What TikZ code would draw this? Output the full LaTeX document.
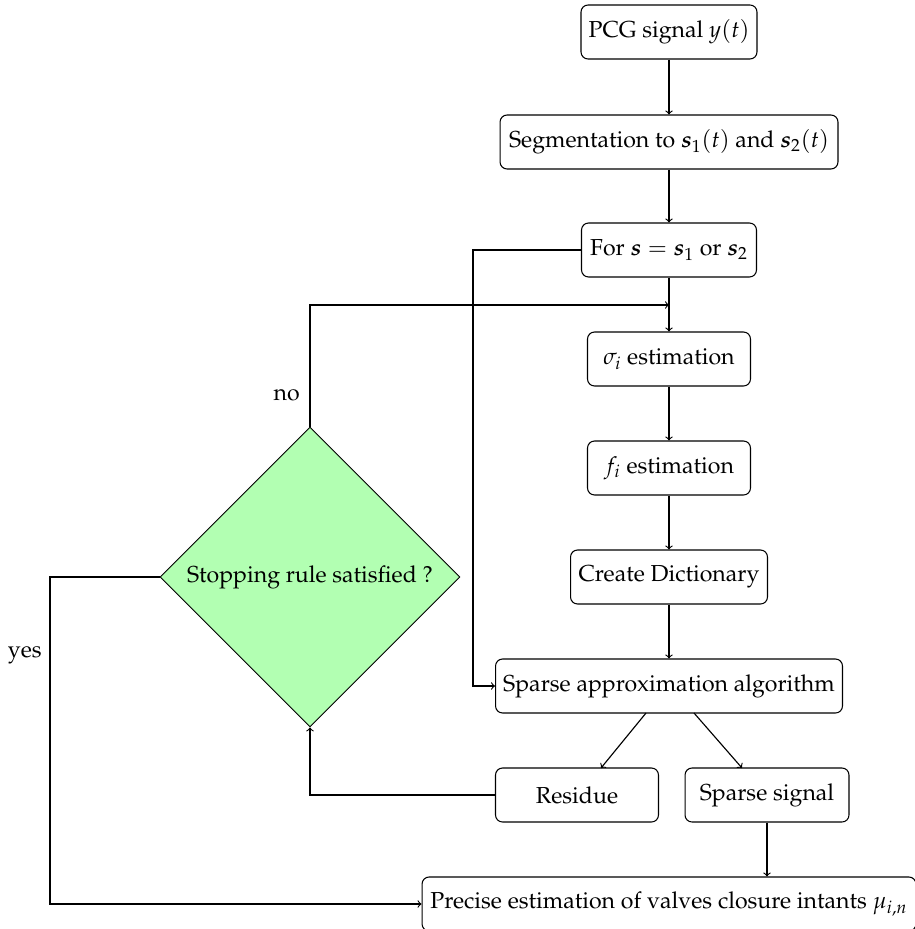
\documentclass[tikz,border=0pt]{standalone}
\usepackage[T1]{fontenc}
\usepackage{amsmath}
\usepackage{mathpazo}
\usetikzlibrary{shapes.geometric}
\begin{document}
\begin{tikzpicture}[x=0.02cm,y=-0.02cm,
  every node/.style={font=\fontsize{13.15pt}{15.5pt}\selectfont},
  box/.style={draw, rounded corners=4pt, line width=0.6pt, minimum height=1.08cm, inner xsep=0pt, align=center},
  dec/.style={draw, diamond, fill=green!30, line width=0.5pt, minimum width=6cm, minimum height=6cm, inner sep=0pt},
  arr/.style={->, line width=0.65pt},
  lbl/.style={inner sep=0pt}]
\useasboundingbox (0,0) rectangle (915,929);
\node[box, minimum width=3.52cm] (pcg) at (669,32) {PCG signal $y(t)$};
\node[box, minimum width=6.76cm] (seg) at (669,142) {Segmentation to $\boldsymbol{s}_1(t)$ and $\boldsymbol{s}_2(t)$};
\node[box, minimum width=3.5cm] (for) at (669,250) {For $\boldsymbol{s}=\boldsymbol{s}_1$ or $\boldsymbol{s}_2$};
\node[box, minimum width=3.26cm] (sig) at (669,359) {$\sigma_i$ estimation};
\node[box, minimum width=3.26cm] (fi) at (669,468) {$f_i$ estimation};
\node[box, minimum width=3.94cm] (dic) at (669,577) {Create Dictionary};
\node[box, minimum width=6.94cm] (spa) at (669,686) {Sparse approximation algorithm};
\node[box, minimum width=3.26cm] (res) at (577,795) {Residue};
\node[box, minimum width=3.28cm] (sps) at (767,795) {Sparse signal};
\node[box, minimum width=9.88cm] (pre) at (669,904) {Precise estimation of valves closure intants $\mu_{i,n}$};
\node[dec] (stop) at (310,577) {Stopping rule satisfied ?};
\node[lbl, anchor=east] (no) at (300,395) {no};
\node[lbl, anchor=east] (yes) at (42,655) {yes};
\coordinate (join) at (669,305);
\draw[arr] (pcg) -- (seg);
\draw[arr] (seg) -- (for);
\draw[arr] (for) -- (sig);
\draw[arr] (sig) -- (fi);
\draw[arr] (fi) -- (dic);
\draw[arr] (dic) -- (spa);
\draw[arr] (for.west) -- (473,250) |- (spa.west);
\draw[arr] (stop.north) |- (join);
\draw[arr] (stop.west) -- (50,577) |- (pre.west);
\draw[arr] (res.west) -| (stop.south);
\draw[arr] (646,713) -- (601,768);
\draw[arr] (694,713) -- (742,768);
\draw[arr] (sps) -- (sps |- pre.north);
\end{tikzpicture}
\end{document}
